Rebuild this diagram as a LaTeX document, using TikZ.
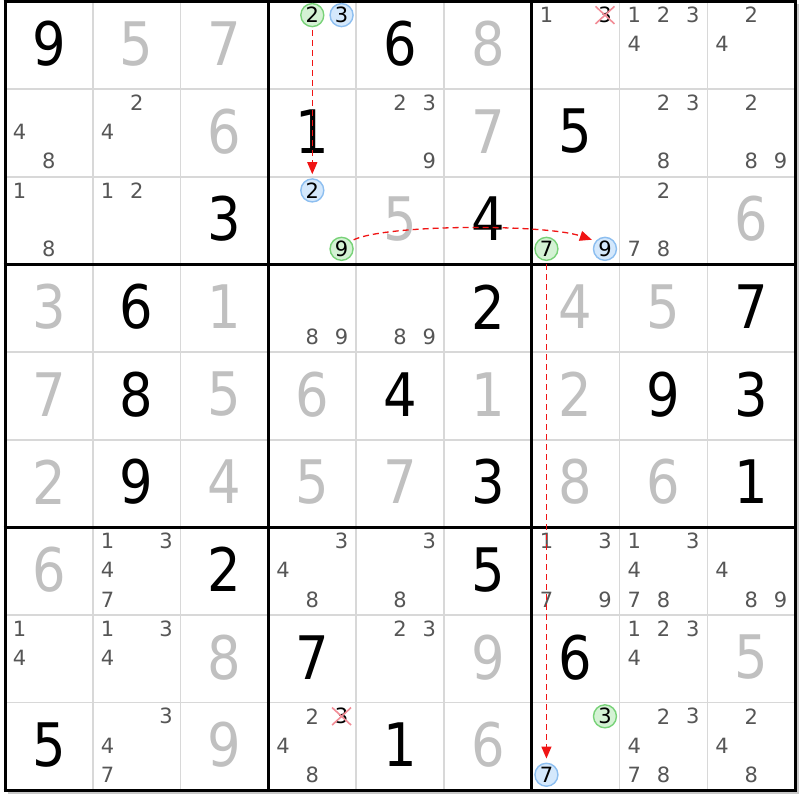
\documentclass[tikz,border=0pt]{standalone}
\usepackage{fontspec}
\setmainfont{DejaVu Sans}
\newfontfamily\bigdig{DejaVu Sans}[FakeStretch=0.88]
\usetikzlibrary{arrows.meta,shapes.misc}
\definecolor{solvedgray}{RGB}{192,192,192}
\definecolor{candgray}{RGB}{86,86,86}
\definecolor{thingrid}{RGB}{216,216,216}
\definecolor{shadowgray}{RGB}{200,200,200}
\definecolor{gfill}{RGB}{212,242,212}
\definecolor{gline}{RGB}{120,210,120}
\definecolor{bfill}{RGB}{212,232,252}
\definecolor{bline}{RGB}{140,190,240}
\definecolor{xred}{RGB}{242,140,150}
\definecolor{linkred}{RGB}{240,20,20}
\newcommand\CW{87.8}
\newcommand\CH{87.65}
\newcommand\OX{5}
\newcommand\OY{1.5}
\newcommand\Given[3]{\node[given] (v-#1-#2) at ({\OX+\CW*(#2-0.5)},{\OY+\CH*(#1-0.5)-1.5}) {#3};}
\newcommand\Solved[3]{\node[solved] (v-#1-#2) at ({\OX+\CW*(#2-0.5)},{\OY+\CH*(#1-0.5)-1.5}) {#3};}
\newcommand\Cands[3]{\foreach \d in {#3}{%
  \pgfmathtruncatemacro\sc{mod(\d-1,3)}%
  \pgfmathtruncatemacro\sr{div(\d-1,3)}%
  \node[cand] (c-#1-#2-\d) at ({\OX+\CW*(#2-1+(2*\sc+1)/6)},{\OY+\CH*(#1-1+(2*\sr+1)/6)-1}) {\d};}}
\newcommand\XCand[3]{%
  \pgfmathtruncatemacro\sc{mod(#3-1,3)}%
  \pgfmathtruncatemacro\sr{div(#3-1,3)}%
  \node[xcand] (x-#1-#2-#3) at ({\OX+\CW*(#2-1+(2*\sc+1)/6)},{\OY+\CH*(#1-1+(2*\sr+1)/6)-1}) {#3};}
\newcommand\Circ[5]{%
  \pgfmathtruncatemacro\sc{mod(#4-1,3)}%
  \pgfmathtruncatemacro\sr{div(#4-1,3)}%
  \node[#5] (#1) at ({\OX+\CW*(#3-1+(2*\sc+1)/6)},{\OY+\CH*(#2-1+(2*\sr+1)/6)-1}) {#4};}
\tikzset{
  given/.style={inner sep=0pt, text=black, font=\bigdig\fontsize{60}{60}\selectfont},
  solved/.style={inner sep=0pt, text=solvedgray, font=\bigdig\fontsize{60}{60}\selectfont},
  cand/.style={inner sep=0pt, text=candgray, font=\fontsize{21}{21}\selectfont},
  xcand/.style={cross out, draw=xred, line width=1.6pt, inner xsep=2pt, inner ysep=0pt, text=black, font=\fontsize{21}{21}\selectfont},
  gcirc/.style={circle, draw=gline, fill=gfill, line width=1.4pt, minimum size=23pt, inner sep=0pt, text=black, font=\fontsize{21}{21}\selectfont},
  bcirc/.style={circle, draw=bline, fill=bfill, line width=1.4pt, minimum size=23pt, inner sep=0pt, text=black, font=\fontsize{21}{21}\selectfont},
  thinline/.style={draw=thingrid, line width=1.5pt},
  thickline/.style={draw=black, line width=3pt},
  link/.style={draw=linkred, line width=1.3pt, dash pattern=on 6pt off 4pt, -{Triangle[length=12pt,width=10pt]}, shorten <=3pt, shorten >=4pt}
}
\begin{document}
\begin{tikzpicture}[x=1pt,y=-1pt]
\useasboundingbox (0,0) rectangle (800,800);
\fill[white] (0,0) rectangle (800,800);
% shadow
\draw[shadowgray, line width=2pt] ({\OX+9*\CW+2.5},{\OY+3}) -- ({\OX+9*\CW+2.5},{\OY+9*\CH+2.5}) -- ({\OX+3},{\OY+9*\CH+2.5});
% thin grid lines
\foreach \i in {1,2,4,5,7,8}{
  \draw[thinline] ({\OX+\i*\CW},{\OY}) -- ({\OX+\i*\CW},{\OY+9*\CH});
  \draw[thinline] ({\OX},{\OY+\i*\CH}) -- ({\OX+9*\CW},{\OY+\i*\CH});
}
% thick lines
\foreach \i in {0,3,6,9}{
  \draw[thickline] ({\OX+\i*\CW},{\OY-1.5}) -- ({\OX+\i*\CW},{\OY+9*\CH+1.5});
  \draw[thickline] ({\OX-1.5},{\OY+\i*\CH}) -- ({\OX+9*\CW+1.5},{\OY+\i*\CH});
}
% givens
\Given{1}{1}{9}\Given{1}{5}{6}
\Given{2}{4}{1}\Given{2}{7}{5}
\Given{3}{3}{3}\Given{3}{6}{4}
\Given{4}{2}{6}\Given{4}{6}{2}\Given{4}{9}{7}
\Given{5}{2}{8}\Given{5}{5}{4}\Given{5}{8}{9}\Given{5}{9}{3}
\Given{6}{2}{9}\Given{6}{6}{3}\Given{6}{9}{1}
\Given{7}{3}{2}\Given{7}{6}{5}
\Given{8}{4}{7}\Given{8}{7}{6}
\Given{9}{1}{5}\Given{9}{5}{1}
% solved
\Solved{1}{2}{5}\Solved{1}{3}{7}\Solved{1}{6}{8}
\Solved{2}{3}{6}\Solved{2}{6}{7}
\Solved{3}{5}{5}\Solved{3}{9}{6}
\Solved{4}{1}{3}\Solved{4}{3}{1}\Solved{4}{7}{4}\Solved{4}{8}{5}
\Solved{5}{1}{7}\Solved{5}{3}{5}\Solved{5}{4}{6}\Solved{5}{6}{1}\Solved{5}{7}{2}
\Solved{6}{1}{2}\Solved{6}{3}{4}\Solved{6}{4}{5}\Solved{6}{5}{7}\Solved{6}{7}{8}\Solved{6}{8}{6}
\Solved{7}{1}{6}
\Solved{8}{3}{8}\Solved{8}{6}{9}\Solved{8}{9}{5}
\Solved{9}{3}{9}\Solved{9}{6}{6}
% candidates
\Cands{1}{7}{1}\XCand{1}{7}{3}
\Cands{1}{8}{1,2,3,4}
\Cands{1}{9}{2,4}
\Cands{2}{1}{4,8}
\Cands{2}{2}{2,4}
\Cands{2}{5}{2,3,9}
\Cands{2}{8}{2,3,8}
\Cands{2}{9}{2,8,9}
\Cands{3}{1}{1,8}
\Cands{3}{2}{1,2}
\Cands{3}{8}{2,7,8}
\Cands{4}{4}{8,9}
\Cands{4}{5}{8,9}
\Cands{7}{2}{1,3,4,7}
\Cands{7}{4}{3,4,8}
\Cands{7}{5}{3,8}
\Cands{7}{7}{1,3,7,9}
\Cands{7}{8}{1,3,4,7,8}
\Cands{7}{9}{4,8,9}
\Cands{8}{1}{1,4}
\Cands{8}{2}{1,3,4}
\Cands{8}{5}{2,3}
\Cands{8}{8}{1,2,3,4}
\Cands{9}{2}{3,4,7}
\Cands{9}{4}{2,4,8}\XCand{9}{4}{3}
\Cands{9}{8}{2,3,4,7,8}
\Cands{9}{9}{2,4,8}
% circled candidates
\Circ{g1}{1}{4}{2}{gcirc}
\Circ{b1}{1}{4}{3}{bcirc}
\Circ{b2}{3}{4}{2}{bcirc}
\Circ{g3}{3}{4}{9}{gcirc}
\Circ{g4}{3}{7}{7}{gcirc}
\Circ{b4}{3}{7}{9}{bcirc}
\Circ{g5}{9}{7}{3}{gcirc}
\Circ{b5}{9}{7}{7}{bcirc}
% links
\draw[link] (g1) -- (b2);
\draw[link] (g3.40) .. controls (388,224) and (545,224) .. (b4.140);
\draw[link] (g4) -- (b5);
\end{tikzpicture}
\end{document}
